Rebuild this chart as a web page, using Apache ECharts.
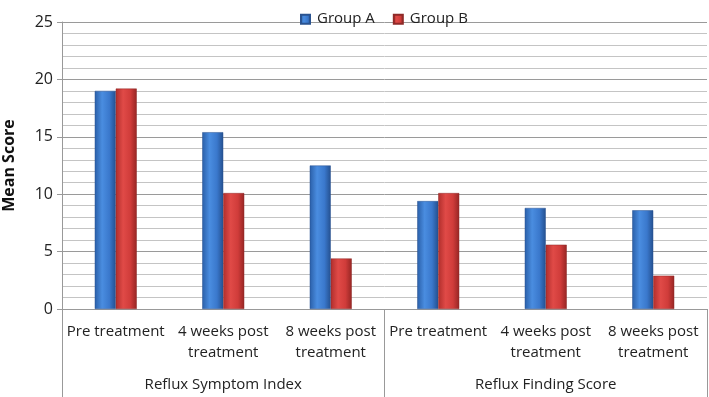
<!DOCTYPE html>
<html>
<head>
	<title></title>
	<style>html,body{margin:0;padding:0;background:#fff}</style>
</head>
<body>
<div id="chart" style="width:709px;height:397px"></div>
<script src="https://cdn.jsdelivr.net/npm/echarts@6/dist/echarts.min.js"></script>
<script type="text/javascript">
// categories and values
var subCategories = ['Pre treatment', '4 weeks post\ntreatment', '8 weeks post\ntreatment',
                     'Pre treatment', '4 weeks post\ntreatment', '8 weeks post\ntreatment']
var groupCategories = ['Reflux Symptom Index', 'Reflux Finding Score']
var groupA = [19.0, 15.4, 12.5, 9.4, 8.8, 8.6]
var groupB = [19.2, 10.1, 4.4, 10.1, 5.6, 2.9]
var yTicks = [0, 5, 10, 15, 20, 25]

function cylinder(c0, c1, c2, c3) {
  return new echarts.graphic.LinearGradient(0, 0, 1, 0, [
    {offset: 0, color: c0}, {offset: 0.35, color: c1},
    {offset: 0.7, color: c2}, {offset: 1, color: c3}
  ])
}

var chart = echarts.init(document.getElementById('chart'), null, {renderer: 'canvas'})
chart.setOption({
  animation: false,
  textStyle: {fontFamily: 'Open Sans'},
  legend: {
    top: 2, left: 295, itemWidth: 9, itemHeight: 9, itemGap: 18,
    icon: 'rect',
    textStyle: {fontSize: 15, color: '#222', padding: [0, 0, 0, 2]},
    data: ['Group A', 'Group B']
  },
  grid: {left: 62, right: 2, top: 22, bottom: 88, outerBoundsMode: 'none', containLabel: false},
  xAxis: [{
    type: 'category',
    data: subCategories,
    axisLine: {lineStyle: {color: '#999'}},
    axisTick: {show: false},
    axisLabel: {fontSize: 15, color: '#222', margin: 12, lineHeight: 21, interval: 0}
  }, {
    type: 'category',
    position: 'bottom',
    data: groupCategories,
    axisLine: {show: false},
    axisTick: {show: true, length: 88, lineStyle: {color: '#999'}},
    axisLabel: {fontSize: 15, color: '#222', margin: 64}
  }],
  yAxis: {
    type: 'value', min: yTicks[0], max: yTicks[yTicks.length - 1], interval: 5,
    name: 'Mean Score', nameLocation: 'middle', nameGap: 34,
    nameTextStyle: {fontSize: 16, fontWeight: 'bold', color: '#111'},
    axisLine: {show: true, lineStyle: {color: '#999'}},
    axisTick: {show: true, length: 5, lineStyle: {color: '#999'}},
    axisLabel: {fontSize: 16, color: '#222', margin: 9},
    splitLine: {lineStyle: {color: '#9a9a9a', width: 1}},
    minorTick: {show: false, splitNumber: 5},
    minorSplitLine: {show: true, lineStyle: {color: '#c4c4c4', width: 1}}
  },
  series: [{
    name: 'Group A', type: 'bar', data: groupA, barWidth: 21, barGap: '0%',
    itemStyle: {color: cylinder('#2a5fa8', '#4a8de0', '#3a78cc', '#24508f'), borderColor: '#2a5390', borderWidth: 0.5}
  }, {
    name: 'Group B', type: 'bar', data: groupB, barWidth: 21,
    itemStyle: {color: cylinder('#b02e2c', '#e04a47', '#d03c3a', '#962624'), borderColor: '#8f2a28', borderWidth: 0.5}
  }]
})
</script>
</body>
</html>
